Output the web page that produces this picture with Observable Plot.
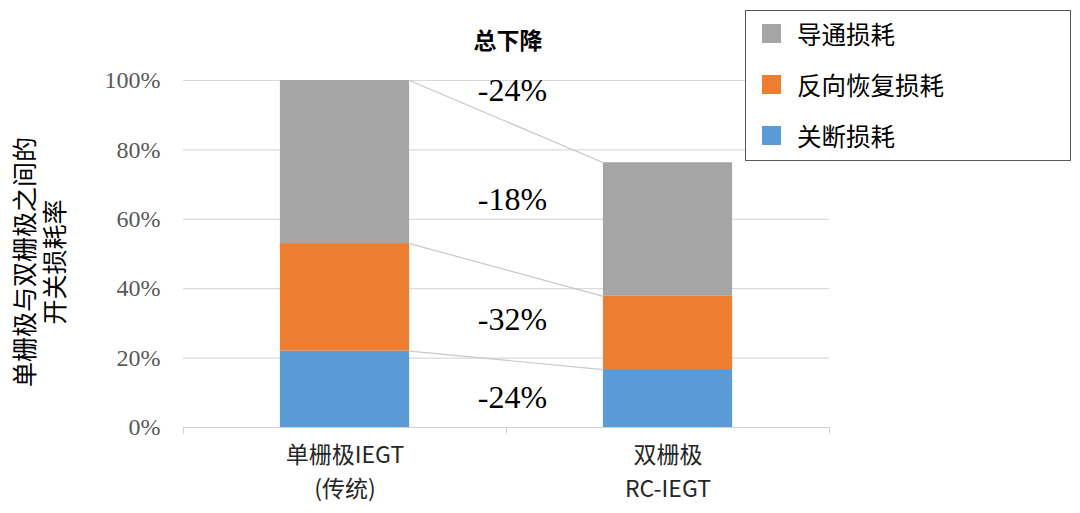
<!DOCTYPE html>
<html><head><meta charset="utf-8">
<script src="https://cdn.jsdelivr.net/npm/d3@7"></script>
<script src="https://cdn.jsdelivr.net/npm/@observablehq/plot@0.6"></script>
<style>
body{margin:0;background:#fff;}
#wrap{position:relative;width:1080px;height:513px;font-family:"Noto Sans CJK SC","Noto Sans",sans-serif;}
#wrap svg{position:absolute;left:0;top:0;}
.title{position:absolute;left:408px;width:200px;top:24px;text-align:center;font-size:23px;font-weight:bold;color:#000;line-height:30px;}
.ytitle{position:absolute;left:38px;top:262px;width:340px;transform:translate(-50%,-50%) rotate(-90deg);text-align:center;font-size:25px;line-height:30px;color:#000;}
.legend{position:absolute;left:745px;top:10px;width:324px;height:149px;border:1.5px solid #595959;background:#fff;}
.li{position:absolute;left:16px;height:30px;display:flex;align-items:center;font-size:24.5px;color:#000;}
.sw{width:19px;height:19px;margin-right:16px;}
</style></head><body><div id="wrap"></div>
<script>
const categoriesLine1 = ["单栅极IEGT", "双栅极"];
const categoriesLine2 = ["(传统)", "RC-IEGT"];
const seriesNames = ["关断损耗", "反向恢复损耗", "导通损耗"];
const seriesColors = ["#5b9bd5", "#ed7d31", "#a5a5a5"];
const turnOffLoss = [22, 16.7];
const reverseRecoveryLoss = [31, 21.1];
const conductionLoss = [47, 38.5];
const changeLabels = ["-24%", "-32%", "-18%", "-24%"];
const changeLabelY = [8.5, 31, 65.5, 97];
const yTicks = [0, 20, 40, 60, 80, 100];
const legendOrder = ["导通损耗", "反向恢复损耗", "关断损耗"];

const seriesValues = [turnOffLoss, reverseRecoveryLoss, conductionLoss];
const half = 0.2;
const rects = [];
const tops = categoriesLine1.map(() => []);
categoriesLine1.forEach((c, i) => {
  let acc = 0;
  seriesValues.forEach((vals, k) => {
    rects.push({x1: i + 0.5 - half, x2: i + 0.5 + half, y1: acc, y2: acc + vals[i], s: seriesNames[k]});
    acc += vals[i];
    tops[i].push(acc);
  });
});
const links = seriesNames.map((s, k) => ({x1: 0.5 + half, y1: tops[0][k], x2: 1.5 - half, y2: tops[1][k]}));
const labels = changeLabels.map((t, i) => ({x: 1, y: changeLabelY[i], t}));
const serif = "'Liberation Serif', 'Times New Roman', serif";

const chart = Plot.plot({
  width: 1080, height: 513,
  marginLeft: 183, marginRight: 251, marginTop: 80, marginBottom: 86,
  x: {domain: [0, 2]},
  y: {domain: [0, 100]},
  color: {domain: seriesNames, range: seriesColors},
  style: {background: "transparent"},
  marks: [
    Plot.gridY(yTicks, {stroke: "#d9d9d9", strokeOpacity: 1, strokeWidth: 1.2}),
    Plot.ruleY([0], {stroke: "#d0d0d0", strokeWidth: 1.2}),
    Plot.rect(rects, {x1: "x1", x2: "x2", y1: "y1", y2: "y2", fill: "s"}),
    Plot.link(links, {x1: "x1", y1: "y1", x2: "x2", y2: "y2", stroke: "#c8c8c8", strokeWidth: 1.2}),
    Plot.text(labels, {x: "x", y: "y", text: "t", dx: 6, fontFamily: serif, fontSize: 32, fill: "#000"}),
    Plot.axisY(yTicks, {tickSize: 0, tickPadding: 23, tickFormat: d => d + "%", fontFamily: serif, fontSize: 24, fill: "#595959", label: null}),
    Plot.axisX([0, 1, 2], {tickSize: 7, stroke: "#d0d0d0", tickFormat: () => "", label: null}),
    Plot.axisX([0.5, 1.5], {tickSize: 0, tickPadding: 19, tickFormat: d => categoriesLine1[Math.floor(d)], fontSize: 23, fill: "#262626", fontFamily: "Noto Sans CJK SC", label: null}),
    Plot.axisX([0.5, 1.5], {tickSize: 0, tickPadding: 53, tickFormat: d => categoriesLine2[Math.floor(d)], fontSize: 23, fill: "#262626", fontFamily: "Noto Sans CJK SC", label: null})
  ]
});
const wrap = document.getElementById("wrap");
wrap.appendChild(chart);

const title = document.createElement("div");
title.className = "title"; title.textContent = "总下降";
wrap.appendChild(title);

const yt = document.createElement("div");
yt.className = "ytitle"; yt.innerHTML = "单栅极与双栅极之间的<br>开关损耗率";
wrap.appendChild(yt);

const lg = document.createElement("div");
lg.className = "legend";
legendOrder.forEach((name, i) => {
  const it = document.createElement("div");
  it.className = "li"; it.style.top = (7 + i * 51) + "px";
  const sw = document.createElement("div");
  sw.className = "sw"; sw.style.background = seriesColors[seriesNames.indexOf(name)];
  it.appendChild(sw);
  it.appendChild(document.createTextNode(name));
  lg.appendChild(it);
});
wrap.appendChild(lg);
</script></body></html>
